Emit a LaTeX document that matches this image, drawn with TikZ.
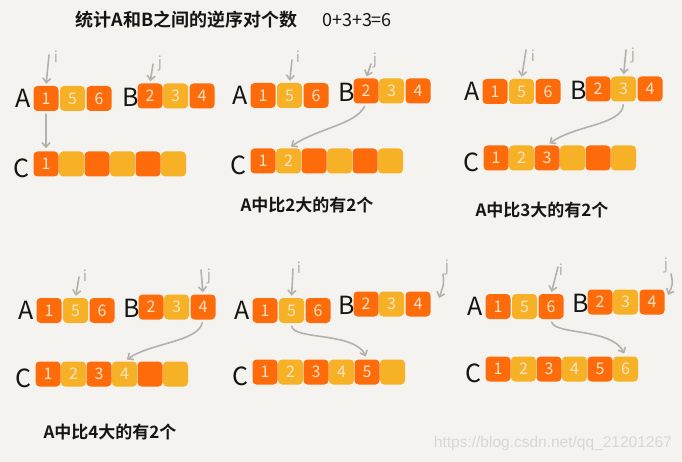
\documentclass[tikz,border=0pt]{standalone}
\usepackage{fontspec}
\setmainfont{Noto Sans CJK SC}[BoldFont={Noto Sans CJK SC Bold}]
\newfontfamily\wmfont{Liberation Sans}
\usetikzlibrary{arrows.meta}
\definecolor{bg}{HTML}{F4F3EF}
\definecolor{org}{HTML}{FE6B0B}
\definecolor{yel}{HTML}{F6B126}
\definecolor{dig}{HTML}{FBE3C6}
\definecolor{arr}{HTML}{B3B1AB}
\definecolor{wmc}{HTML}{D8D7D3}
\definecolor{ink}{HTML}{151515}
\tikzset{
  cell/.style={rounded corners=4pt, minimum width=25pt, minimum height=25pt, inner sep=0pt, text=dig, font=\fontsize{16}{16}\selectfont},
  oc/.style={cell, fill=org},
  yc/.style={cell, fill=yel},
  lab/.style={text=ink, font=\fontsize{25}{25}\selectfont, inner sep=0pt},
  ptr/.style={draw=arr, line width=1.6pt, line cap=round, -{Straight Barb[length=4.5pt,width=8pt]}, shorten >=2pt},
  mover/.style={draw=arr, line width=1.6pt, line cap=round, -{Straight Barb[length=4.5pt,width=8pt]}, shorten >=3pt, shorten <=3pt},
  plbl/.style={text=arr, font=\fontsize{15}{15}\selectfont\itshape, inner sep=0pt},
  captxt/.style={text=ink, font=\fontsize{17}{17}\selectfont\bfseries, inner sep=0pt},
}
\newcommand\mkpanel[8]{%
\begin{scope}[shift={(#2,#3)}]
  \node[lab] (#1LA) at (23,98) {A};
  \node[oc] (#1a1) at (46,98.5) {1};
  \node[yc] (#1a2) at (72.5,98.5) {5};
  \node[oc] (#1a3) at (99,98.5) {6};
\end{scope}
\begin{scope}[shift={(#4,#5)}]
  \node[lab] (#1LB) at (131,97) {B};
  \node[oc] (#1b1) at (150,96) {2};
  \node[yc] (#1b2) at (175.5,96) {3};
  \node[oc] (#1b3) at (202,96) {4};
\end{scope}
\begin{scope}[shift={(#6,#7)}]
  \node[lab] (#1LC) at (21,168) {C};
  \foreach \k in {1,...,6}{%
    \ifodd\k\relax\def\cc{org}\else\def\cc{yel}\fi
    \node[cell,fill=\cc] (#1c\k) at ({46+(\k-1)*25.5},164) {\ifnum\k>#8\relax\else\k\fi};
  }
\end{scope}}
\begin{document}
\begin{tikzpicture}[x=1pt,y=-1pt]
\fill[bg] (0,0) rectangle (682,462);
\useasboundingbox (0,0) rectangle (682,462);

\node[text=ink, font=\fontsize{18}{18}\selectfont\bfseries, inner sep=0pt] (title) at (186.5,20) {统计A和B之间的逆序对个数};
\node[text=ink, font=\fontsize{18}{18}\selectfont, inner sep=0pt] (sum) at (357,20) {0+3+3=6};

\mkpanel{P1}{0}{0}{0}{0}{0}{0}{1}
\mkpanel{P2}{217}{-3}{216}{-5}{217}{-3}{2}
\mkpanel{P3}{449}{-7}{448}{-7}{450}{-6}{3}
\mkpanel{P4}{3}{212}{1}{211}{2}{210}{4}
\mkpanel{P5}{219}{212}{216}{208}{219}{208}{5}
\mkpanel{P6}{452}{208}{450}{206}{452}{205}{6}

% pointer labels
\node[plbl] (P1il) at (56,57) {i};   \node[plbl] (P1jl) at (160,64) {j};
\node[plbl] (P2il) at (298,57) {i};  \node[plbl] (P2jl) at (375,61) {j};
\node[plbl] (P3il) at (533,56) {i};  \node[plbl] (P3jl) at (633,56) {j};
\node[plbl] (P4il) at (85,276) {i};  \node[plbl] (P4jl) at (209,277) {j};
\node[plbl] (P5il) at (299,268) {i}; \node[plbl] (P5jl) at (447,268) {j};
\node[plbl] (P6il) at (561,270) {i}; \node[plbl] (P6jl) at (666,266) {j};

% pointer arrows
\coordinate (P1it) at (49,55);   \draw[ptr] (P1it) -- (P1a1.north);
\coordinate (P1jt) at (153,64);  \draw[ptr] (P1jt) -- (P1b1.north);
\coordinate (P2it) at (292,60);  \draw[ptr] (P2it) -- (P2a2.north);
\coordinate (P2jt) at (371,64);  \draw[ptr] (P2jt) -- (P2b1.north);
\coordinate (P3it) at (526,50);  \draw[ptr] (P3it) -- (P3a2.north);
\coordinate (P3jt) at (626,50);  \draw[ptr] (P3jt) -- (P3b2.north);
\coordinate (P4it) at (79,277);  \draw[ptr] (P4it) -- (P4a2.north);
\coordinate (P4jt) at (201,270); \draw[ptr] (P4jt) -- (P4b3.north);
\coordinate (P5it) at (293,269); \draw[ptr] (P5it) -- (P5a2.north);
\coordinate (P5jt) at (443,274); \coordinate (P5je) at (439,298);
\draw[ptr, shorten >=0pt] (P5jt) .. controls (444,284) .. (P5je);
\coordinate (P6it) at (558,267); \draw[ptr] (P6it) -- (P6a3.north);
\coordinate (P6jt) at (671,274); \coordinate (P6je) at (668,295);
\draw[ptr, shorten >=0pt] (P6jt) .. controls (673,284) .. (P6je);

% moves into C
\draw[mover] (P1a1.south) -- (P1c1.north);
\draw[mover] (P2b1.south) .. controls (355,125) and (318,128) .. (P2c2.north);
\draw[mover] (P3b2.south) .. controls (622,125) and (575,125) .. (P3c3.north);
\draw[mover] (P4b3.south) .. controls (198,342) and (150,343) .. (P4c4.north);
\draw[mover] (P5a2.south) .. controls (293,340) and (355,332) .. (P5c5.north);
\draw[mover] (P6a3.south) .. controls (555,335) and (612,328) .. (P6c6.north);

% captions
\node[captxt] (cap2) at (307,205) {A中比2大的有2个};
\node[captxt] (cap3) at (542,210) {A中比3大的有2个};
\node[captxt] (cap4) at (110,432) {A中比4大的有2个};

% watermark
\node[text=wmc, font=\wmfont\fontsize{15.5}{15.5}\selectfont, inner sep=0pt, anchor=east] (wm) at (672,443) {https://blog.csdn.net/qq\_21201267};
\end{tikzpicture}
\end{document}
